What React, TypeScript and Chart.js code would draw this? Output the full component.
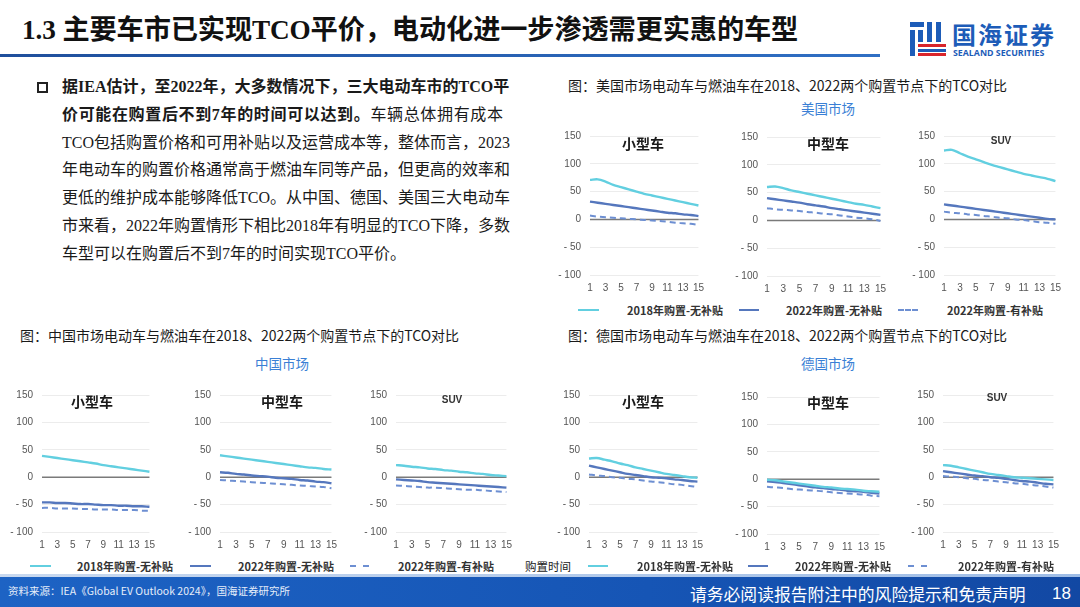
import React, { useEffect, useRef } from "react";
import { Chart, registerables } from "chart.js";

Chart.register(...registerables);

// ---------- data ----------
const xLabels = ["1", "2", "3", "4", "5", "6", "7", "8", "9", "10", "11", "12", "13", "14", "15"];
const iceBaseline = [0, 0, 0, 0, 0, 0, 0, 0, 0, 0, 0, 0, 0, 0, 0];
const seriesNames = ["2018年购置-无补贴", "2022年购置-无补贴", "2022年购置-有补贴"];
const yTicks = [-100, -50, 0, 50, 100, 150];

// US
const us2018Small = [71, 72, 68, 62, 58, 54, 50, 46, 43, 40, 37, 34, 31, 28, 25];
const us2022Small = [32, 30, 28, 26, 24, 22, 20, 18, 16, 14, 12, 11, 9, 8, 6];
const us2022SubSmall = [7, 5, 4, 3, 2, 1, 0, -1, -2, -3, -4, -6, -7, -8, -10];
const us2018Mid = [60, 61, 58, 54, 51, 48, 45, 42, 39, 36, 33, 30, 28, 25, 22];
const us2022Mid = [40, 38, 36, 34, 32, 29, 27, 25, 22, 20, 18, 16, 14, 12, 10];
const us2022SubMid = [22, 20, 19, 18, 17, 15, 14, 12, 11, 9, 7, 5, 4, 2, -1];
const us2018Suv = [124, 125, 119, 113, 108, 103, 98, 94, 90, 86, 82, 79, 76, 73, 69];
const us2022Suv = [27, 25, 23, 21, 19, 17, 15, 13, 11, 9, 7, 5, 3, 1, 0];
const us2022SubSuv = [14, 12, 11, 9, 8, 6, 5, 3, 2, 0, -1, -3, -5, -6, -8];

// China
const cn2018Small = [39, 37, 35, 33, 31, 29, 27, 25, 22, 20, 18, 16, 14, 12, 10];
const cn2022Small = [-46, -46, -47, -47, -48, -49, -49, -50, -51, -51, -52, -52, -53, -53, -54];
const cn2022SubSmall = [-56, -56, -57, -57, -57, -58, -58, -59, -59, -59, -60, -60, -60, -61, -61];
const cn2018Mid = [40, 38, 36, 34, 32, 30, 28, 26, 24, 22, 20, 18, 17, 15, 14];
const cn2022Mid = [9, 8, 6, 5, 3, 2, 1, -1, -2, -3, -5, -6, -8, -9, -11];
const cn2022SubMid = [-5, -6, -7, -8, -9, -10, -11, -12, -13, -14, -15, -16, -17, -18, -20];
const cn2018Suv = [22, 21, 19, 18, 16, 15, 13, 12, 10, 9, 7, 6, 4, 3, 2];
const cn2022Suv = [-4, -5, -6, -7, -9, -10, -11, -12, -13, -14, -15, -16, -17, -18, -19];
const cn2022SubSuv = [-15, -16, -17, -18, -19, -19, -20, -21, -22, -23, -23, -24, -25, -26, -27];

// Germany
const de2018Small = [34, 35, 32, 29, 25, 22, 18, 15, 12, 9, 6, 4, 2, 0, -1];
const de2022Small = [21, 18, 15, 12, 9, 6, 4, 2, 0, -1, -2, -4, -5, -7, -8];
const de2022SubSmall = [5, 3, 2, 0, -1, -3, -4, -6, -8, -9, -11, -13, -14, -16, -18];
const de2018Mid = [-1, -2, -4, -6, -8, -10, -12, -14, -15, -17, -18, -19, -21, -22, -23];
const de2022Mid = [-4, -5, -7, -9, -11, -13, -15, -16, -18, -19, -21, -22, -23, -25, -26];
const de2022SubMid = [-14, -15, -16, -18, -19, -20, -21, -22, -24, -25, -26, -27, -28, -30, -31];
const de2018Suv = [22, 21, 18, 15, 12, 9, 6, 4, 2, 0, -1, -2, -3, -4, -5];
const de2022Suv = [11, 9, 7, 5, 3, 2, 0, -1, -3, -5, -7, -8, -10, -12, -13];
const de2022SubSuv = [2, 1, 0, -2, -3, -5, -6, -8, -9, -11, -12, -14, -15, -17, -19];

// ---------- styles ----------
const C2018 = "#62cfe0";
const C2022 = "#5577bd";
const C2022S = "#6d8fd2";
const CICE = "#7a7a7a";
const CJK = '"Noto Sans CJK SC", "Noto Sans", sans-serif';
const SERIF = '"Liberation Serif", "Noto Sans CJK SC", serif';
const TICKFONT = '"Liberation Sans", Arial, sans-serif';

const Y_W = 40;
const PAD_T = 6;
const PAD_R = 8;
const X_H = 25;

type PanelProps = {
  left: number; right: number; top: number; bottom: number;
  a: number[]; b: number[]; c: number[];
};

function Panel({ left, right, top, bottom, a, b, c }: PanelProps) {
  const ref = useRef<HTMLCanvasElement>(null);
  const w = Y_W + (right - left) + PAD_R;
  const h = PAD_T + (bottom - top) + X_H;
  useEffect(() => {
    if (!ref.current) return;
    const chart = new Chart(ref.current, {
      type: "line",
      data: {
        labels: xLabels,
        datasets: [
          { label: seriesNames[0], data: a, borderColor: C2018, borderWidth: 2.4, pointRadius: 0, tension: 0.35 },
          { label: seriesNames[1], data: b, borderColor: C2022, borderWidth: 2.4, pointRadius: 0, tension: 0.35 },
          { label: seriesNames[2], data: c, borderColor: C2022S, borderWidth: 2, borderDash: [6, 4], pointRadius: 0, tension: 0.35 },
          { label: "燃油车", data: iceBaseline, borderColor: CICE, borderWidth: 1.5, pointRadius: 0 },
        ],
      },
      options: {
        responsive: false,
        animation: false,
        layout: { padding: { top: PAD_T, right: PAD_R, left: 0, bottom: 0 } },
        plugins: { legend: { display: false }, tooltip: { enabled: false }, title: { display: false } },
        scales: {
          x: {
            offset: false,
            grid: { display: false, drawTicks: false },
            border: { display: false },
            afterFit: (s: any) => { s.height = X_H; },
            ticks: {
              autoSkip: false, maxRotation: 0, padding: 7,
              color: "#555", font: { size: 10, family: TICKFONT },
              callback: (_v: any, i: number) => (i % 2 === 0 ? xLabels[i] : ""),
            },
          },
          y: {
            min: yTicks[0], max: yTicks[yTicks.length - 1],
            afterBuildTicks: (s: any) => { s.ticks = yTicks.map((v) => ({ value: v })); },
            afterFit: (s: any) => { s.width = Y_W; },
            grid: { color: "#ececec", lineWidth: 1, drawTicks: false },
            border: { display: false },
            ticks: {
              padding: 9, color: "#555", font: { size: 10, family: TICKFONT },
              callback: (v: any) => (v < 0 ? "- " + -v : String(v)),
            },
          },
        },
      },
    });
    return () => chart.destroy();
  }, []);
  return (
    <canvas
      ref={ref}
      width={w}
      height={h}
      style={{ position: "absolute", left: left - Y_W, top: top - PAD_T, width: w, height: h }}
    />
  );
}

function Txt({ x, y, children, style }: any) {
  return (
    <div style={{ position: "absolute", left: x, top: y, whiteSpace: "nowrap", ...style }}>{children}</div>
  );
}

function CenterTxt({ cx, cy, children, style }: any) {
  return (
    <div style={{ position: "absolute", left: cx - 100, top: cy - 12, width: 200, height: 24, lineHeight: "24px", textAlign: "center", whiteSpace: "nowrap", ...style }}>
      {children}
    </div>
  );
}

const panelTitle = { fontFamily: CJK, fontWeight: 700, fontSize: 14, color: "#1a1a1a" };
const suvTitle = { fontFamily: TICKFONT, fontWeight: 700, fontSize: 10, color: "#333" };
const legendTxt = { fontFamily: CJK, fontWeight: 700, fontSize: 11, color: "#333", lineHeight: "14px" };

function LegendRow({ y, xs }: { y: number; xs: number[][] }) {
  // xs: [sampleStart, sampleEnd, textStart]
  const colors = [C2018, C2022, C2022S];
  return (
    <>
      {xs.map((p, i) => (
        <React.Fragment key={i}>
          <div
            style={{
              position: "absolute", left: p[0], top: y - 1, width: p[1] - p[0], height: 0,
              borderTop: `2.5px ${i === 2 ? "dashed" : "solid"} ${colors[i]}`,
            }}
          />
          <div style={{ position: "absolute", left: p[2], top: y - 7, whiteSpace: "nowrap", ...legendTxt }}>{seriesNames[i]}</div>
        </React.Fragment>
      ))}
    </>
  );
}

const bodyLines: { t: React.ReactNode; j: boolean }[] = [
  { t: <b>据IEA估计，至2022年，大多数情况下，三大电动车市的TCO平</b>, j: true },
  { t: <><b>价可能在购置后不到7年的时间可以达到。</b>车辆总体拥有成本</>, j: true },
  { t: <>TCO包括购置价格和可用补贴以及运营成本等，整体而言，2023</>, j: true },
  { t: <>年电动车的购置价格通常高于燃油车同等产品，但更高的效率和</>, j: true },
  { t: <>更低的维护成本能够降低TCO。从中国、德国、美国三大电动车</>, j: true },
  { t: <>市来看，2022年购置情形下相比2018年有明显的TCO下降，多数</>, j: true },
  { t: <>车型可以在购置后不到7年的时间实现TCO平价。</>, j: false },
];

export default function App() {
  useEffect(() => {
    document.body.style.margin = "0";
  }, []);
  return (
    <div style={{ position: "absolute", left: 0, top: 0, width: 1080, height: 607, overflow: "hidden", background: "#fff", fontFamily: CJK }}>
      {/* Title */}
      <Txt x={22} y={12} style={{ fontFamily: SERIF, fontWeight: 700, fontSize: 27.2, color: "#111", lineHeight: "36px", letterSpacing: "-0.1px" }}>
        1.3 主要车市已实现TCO平价，电动化进一步渗透需更实惠的车型
      </Txt>
      <div style={{ position: "absolute", left: 0, top: 54, width: 880, height: 3, background: "linear-gradient(90deg, #1f4f9c, #2f6fc4)" }} />

      {/* Logo */}
      <div style={{ position: "absolute", left: 910, top: 22, width: 36, height: 34 }}>
        <div style={{ position: "absolute", left: 0, top: 0, width: 14, height: 5, background: "#1d5cb8" }} />
        <div style={{ position: "absolute", left: 0, top: 8, width: 5, height: 26, background: "#1d5cb8" }} />
        <div style={{ position: "absolute", left: 8, top: 8, width: 5, height: 12, background: "#1d5cb8" }} />
        <div style={{ position: "absolute", left: 17, top: 0, width: 5, height: 20, background: "#1d5cb8" }} />
        <div style={{ position: "absolute", left: 26, top: 0, width: 5, height: 20, background: "#1d5cb8" }} />
        <div style={{ position: "absolute", left: 8, top: 22, width: 28, height: 3, background: "#d9252b" }} />
        <div style={{ position: "absolute", left: 8, top: 27, width: 28, height: 3, background: "#1d5cb8" }} />
        <div style={{ position: "absolute", left: 8, top: 31, width: 28, height: 3, background: "#d9252b" }} />
      </div>
      <Txt x={952} y={20} style={{ fontFamily: CJK, fontWeight: 700, fontSize: 24, color: "#1d5cb8", lineHeight: "28px", letterSpacing: "2px" }}>国海证券</Txt>
      <Txt x={953} y={48} style={{ fontFamily: '"Open Sans", "Liberation Sans", sans-serif', fontWeight: 700, fontSize: 8.8, color: "#1d5cb8", lineHeight: "10px" }}>SEALAND SECURITIES</Txt>

      {/* Bullet text */}
      <div style={{ position: "absolute", left: 37, top: 82, width: 7, height: 7, border: "2px solid #222" }} />
      {bodyLines.map((l, i) => (
        <div
          key={i}
          style={{
            position: "absolute", left: 62, top: 73 + i * 27.8, width: 441, height: 28, lineHeight: "28px",
            fontFamily: SERIF, fontSize: 16, color: "#1a1a1a", whiteSpace: "nowrap",
            textAlign: l.j ? "justify" : "left", textAlignLast: l.j ? "justify" : "left",
          }}
        >
          {l.t}
        </div>
      ))}

      {/* US block */}
      <Txt x={568} y={75} style={{ fontSize: 14, color: "#1a1a1a", lineHeight: "20px" }}>图：美国市场电动车与燃油车在2018、2022两个购置节点下的TCO对比</Txt>
      <CenterTxt cx={828} cy={108} style={{ fontSize: 13.5, color: "#3a7fd5" }}>美国市场</CenterTxt>
      <Panel left={590} right={703} top={127} bottom={275} a={us2018Small} b={us2022Small} c={us2022SubSmall} />
      <Panel left={767} right={885} top={128} bottom={276} a={us2018Mid} b={us2022Mid} c={us2022SubMid} />
      <Panel left={944} right={1060} top={127} bottom={275} a={us2018Suv} b={us2022Suv} c={us2022SubSuv} />
      <CenterTxt cx={643} cy={143} style={panelTitle}>小型车</CenterTxt>
      <CenterTxt cx={828} cy={143} style={panelTitle}>中型车</CenterTxt>
      <CenterTxt cx={1001} cy={141} style={suvTitle}>SUV</CenterTxt>
      <LegendRow y={310} xs={[[578, 599, 627], [739, 759, 786], [898, 918, 947]]} />

      {/* China block */}
      <Txt x={20} y={325} style={{ fontSize: 14, color: "#1a1a1a", lineHeight: "20px" }}>图：中国市场电动车与燃油车在2018、2022两个购置节点下的TCO对比</Txt>
      <CenterTxt cx={282} cy={363} style={{ fontSize: 13.5, color: "#3a7fd5" }}>中国市场</CenterTxt>
      <Panel left={42} right={154} top={386} bottom={532} a={cn2018Small} b={cn2022Small} c={cn2022SubSmall} />
      <Panel left={220} right={336} top={386} bottom={532} a={cn2018Mid} b={cn2022Mid} c={cn2022SubMid} />
      <Panel left={396} right={511} top={386} bottom={532} a={cn2018Suv} b={cn2022Suv} c={cn2022SubSuv} />
      <CenterTxt cx={92} cy={401} style={panelTitle}>小型车</CenterTxt>
      <CenterTxt cx={282} cy={401} style={panelTitle}>中型车</CenterTxt>
      <CenterTxt cx={452} cy={400} style={suvTitle}>SUV</CenterTxt>
      <LegendRow y={566} xs={[[30, 51, 77], [190, 211, 238], [350, 369, 398]]} />
      <Txt x={525} y={557} style={{ fontSize: 11.5, color: "#222", lineHeight: "18px" }}>购置时间</Txt>

      {/* Germany block */}
      <Txt x={568} y={325} style={{ fontSize: 14, color: "#1a1a1a", lineHeight: "20px" }}>图：德国市场电动车与燃油车在2018、2022两个购置节点下的TCO对比</Txt>
      <CenterTxt cx={828} cy={363} style={{ fontSize: 13.5, color: "#3a7fd5" }}>德国市场</CenterTxt>
      <Panel left={589} right={702} top={386} bottom={532} a={de2018Small} b={de2022Small} c={de2022SubSmall} />
      <Panel left={767} right={884} top={388} bottom={534} a={de2018Mid} b={de2022Mid} c={de2022SubMid} />
      <Panel left={943} right={1058} top={386} bottom={532} a={de2018Suv} b={de2022Suv} c={de2022SubSuv} />
      <CenterTxt cx={643} cy={401} style={panelTitle}>小型车</CenterTxt>
      <CenterTxt cx={828} cy={402} style={panelTitle}>中型车</CenterTxt>
      <CenterTxt cx={997} cy={398} style={suvTitle}>SUV</CenterTxt>
      <LegendRow y={566} xs={[[588, 608, 637], [748, 768, 795], [908, 927, 958]]} />

      {/* Footer */}
      <div style={{ position: "absolute", left: 0, top: 574, width: 1080, height: 3, background: "linear-gradient(90deg, #c9d9ef, #9fbde6)" }} />
      <div style={{ position: "absolute", left: 0, top: 577, width: 1080, height: 30, background: "linear-gradient(90deg, #1d63c4, #1655b5 60%, #1248a3)" }} />
      <Txt x={8} y={584} style={{ fontSize: 10.5, color: "#e6eefa", lineHeight: "14px" }}>资料来源：IEA《Global EV Outlook 2024》，国海证券研究所</Txt>
      <Txt x={690} y={582} style={{ fontSize: 16.8, color: "#fff", lineHeight: "24px" }}>请务必阅读报告附注中的风险提示和免责声明</Txt>
      <Txt x={1052} y={582} style={{ fontSize: 17, color: "#fff", lineHeight: "24px", fontFamily: TICKFONT }}>18</Txt>
    </div>
  );
}
